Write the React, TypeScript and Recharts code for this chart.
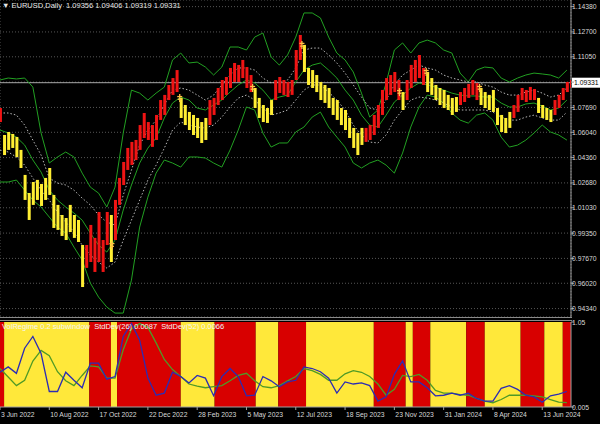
import React from 'react';
import { ComposedChart, Bar, Line, XAxis, YAxis, CartesianGrid, ReferenceLine, ReferenceArea } from 'recharts';

const FONT = '"Liberation Sans", Arial, sans-serif';
const AXIS = '#a0a0a0';

// EURUSD daily, one sample every 4 sessions (high / low and trend colour)
const barHigh = [
  1.0765, 1.0586, 1.0606, 1.0593, 1.0573, 1.0487, 1.0321, 1.0201, 1.0274, 1.0288,
  1.0261, 1.0301, 1.0367, 1.0188, 1.0122, 1.0055, 1.0035, 1.0122, 1.0055, 1.0022,
  0.9856, 0.9856, 0.9989, 0.9903, 1.0075, 0.9889, 1.0075, 1.0055, 1.0155, 1.0301,
  1.0407, 1.0500, 1.0540, 1.0553, 1.0652, 1.0732, 1.0672, 1.0652, 1.0719, 1.0818,
  1.0852, 1.0918, 1.0964, 1.1017, 1.0832, 1.0785, 1.0739, 1.0719, 1.0699, 1.0672,
  1.0699, 1.0818, 1.0832, 1.0898, 1.0951, 1.0971, 1.1031, 1.1064, 1.1051, 1.1084,
  1.1037, 1.0984, 1.0898, 1.0832, 1.0785, 1.0765, 1.0818, 1.0951, 1.0971, 1.0951,
  1.0938, 1.0951, 1.1150, 1.1250, 1.1184, 1.1031, 1.1017, 1.0984, 1.0938, 1.0918,
  1.0898, 1.0832, 1.0818, 1.0765, 1.0752, 1.0699, 1.0633, 1.0599, 1.0633, 1.0633,
  1.0652, 1.0719, 1.0785, 1.0885, 1.0964, 1.0984, 1.1004, 1.0951, 1.0871, 1.0951,
  1.1051, 1.1084, 1.1117, 1.1031, 1.1004, 1.0964, 1.0918, 1.0898, 1.0885, 1.0852,
  1.0832, 1.0838, 1.0871, 1.0898, 1.0925, 1.0951, 1.0931, 1.0898, 1.0871, 1.0852,
  1.0885, 1.0765, 1.0719, 1.0699, 1.0739, 1.0785, 1.0852, 1.0898, 1.0885, 1.0905,
  1.0891, 1.0832, 1.0785, 1.0765, 1.0752, 1.0818, 1.0852, 1.0898, 1.0938, 1.0951,
];
const barLow = [
  1.0672, 1.0453, 1.0487, 1.0500, 1.0440, 1.0367, 1.0155, 1.0022, 1.0122, 1.0155,
  1.0115, 1.0155, 1.0188, 0.9969, 0.9956, 0.9916, 0.9889, 0.9942, 0.9903, 0.9876,
  0.9577, 0.9704, 0.9743, 0.9677, 0.9743, 0.9677, 0.9856, 0.9743, 0.9889, 1.0122,
  1.0254, 1.0354, 1.0387, 1.0420, 1.0487, 1.0566, 1.0553, 1.0507, 1.0553, 1.0686,
  1.0719, 1.0818, 1.0852, 1.0871, 1.0699, 1.0652, 1.0619, 1.0586, 1.0566, 1.0533,
  1.0553, 1.0652, 1.0719, 1.0785, 1.0818, 1.0852, 1.0898, 1.0938, 1.0938, 1.0964,
  1.0898, 1.0871, 1.0765, 1.0699, 1.0672, 1.0666, 1.0719, 1.0818, 1.0865, 1.0852,
  1.0838, 1.0852, 1.0951, 1.1084, 1.1004, 1.0918, 1.0898, 1.0871, 1.0818, 1.0799,
  1.0765, 1.0719, 1.0686, 1.0652, 1.0619, 1.0566, 1.0500, 1.0453, 1.0520, 1.0540,
  1.0553, 1.0586, 1.0633, 1.0719, 1.0818, 1.0852, 1.0871, 1.0818, 1.0752, 1.0818,
  1.0898, 1.0938, 1.0964, 1.0918, 1.0871, 1.0852, 1.0818, 1.0785, 1.0765, 1.0752,
  1.0719, 1.0739, 1.0785, 1.0805, 1.0832, 1.0852, 1.0818, 1.0785, 1.0765, 1.0752,
  1.0739, 1.0652, 1.0606, 1.0599, 1.0633, 1.0699, 1.0739, 1.0818, 1.0805, 1.0818,
  1.0818, 1.0732, 1.0699, 1.0686, 1.0672, 1.0719, 1.0765, 1.0818, 1.0871, 1.0898,
];
// R = rising (red), Y = falling (yellow)
const barTrend =
  'R' + 'YYYYYYYYYYYYYYYYYYYY' + 'RRRRRR' + 'Y' + 'RRRRRRRRRRRRRRRR' + 'YYYYYYY' +
  'RRRRRRRRRRR' + 'YYYYY' + 'RRRRRRR' + 'YYYYYYYYYYYYYYY' + 'RRRRRRRRR' + 'Y' +
  'RRRRR' + 'YYYYYYYY' + 'RRRRR' + 'YYYYYYYY' + 'RRRRRR' + 'YYYY' + 'RRRRR';

// envelope lines, one sample every 8 sessions
const bandUpper = [
  1.0951, 1.0964, 1.0958, 1.0964, 1.0904, 1.0599, 1.0400, 1.0440, 1.0473, 1.0440,
  1.0333, 1.0240, 1.0200, 1.0108, 1.0240, 1.0599, 1.0884, 1.0864, 1.0818, 1.0864,
  1.0904, 1.1084, 1.1130, 1.1064, 1.1070, 1.1037, 1.0984, 1.1037, 1.1170, 1.1170,
  1.1150, 1.1236, 1.1263, 1.1104, 1.1050, 1.1117, 1.1236, 1.1396, 1.1396, 1.1363,
  1.1236, 1.1130, 1.1084, 1.1004, 1.0864, 1.0705, 1.0752, 1.0931, 1.1150, 1.1197,
  1.1130, 1.1197, 1.1216, 1.1197, 1.1150, 1.1130, 1.0997, 1.0938, 1.1017, 1.1037,
  1.1031, 1.0964, 1.0938, 1.0964, 1.0984, 1.0997, 1.0991, 1.0984, 1.0964, 1.1017,
];
const bandLower = [
  1.0274, 1.0274, 1.0287, 1.0220, 1.0154, 1.0108, 1.0041, 0.9975, 0.9935, 0.9842,
  0.9756, 0.9603, 0.9510, 0.9444, 0.9404, 0.9404, 0.9623, 0.9975, 1.0174, 1.0333,
  1.0420, 1.0400, 1.0373, 1.0440, 1.0440, 1.0433, 1.0400, 1.0373, 1.0486, 1.0619,
  1.0772, 1.0752, 1.0599, 1.0506, 1.0533, 1.0533, 1.0606, 1.0639, 1.0705, 1.0738,
  1.0639, 1.0572, 1.0506, 1.0400, 1.0367, 1.0400, 1.0420, 1.0386, 1.0333, 1.0466,
  1.0639, 1.0772, 1.0851, 1.0838, 1.0798, 1.0732, 1.0685, 1.0665, 1.0718, 1.0732,
  1.0685, 1.0572, 1.0506, 1.0519, 1.0552, 1.0599, 1.0652, 1.0606, 1.0586, 1.0552,
];
const bandMid = [
  1.0619, 1.0599, 1.0572, 1.0519, 1.0420, 1.0340, 1.0220, 1.0154, 1.0108, 1.0068,
  1.0021, 0.9935, 0.9855, 0.9809, 0.9888, 1.0088, 1.0254, 1.0400, 1.0499, 1.0566,
  1.0699, 1.0798, 1.0838, 1.0818, 1.0765, 1.0752, 1.0785, 1.0818, 1.0871, 1.0918,
  1.0951, 1.0931, 1.0884, 1.0818, 1.0838, 1.0851, 1.0938, 1.1017, 1.1050, 1.1064,
  1.1017, 1.0964, 1.0884, 1.0818, 1.0718, 1.0652, 1.0639, 1.0718, 1.0805, 1.0851,
  1.0898, 1.0931, 1.0918, 1.0904, 1.0884, 1.0864, 1.0851, 1.0845, 1.0845, 1.0838,
  1.0838, 1.0798, 1.0772, 1.0772, 1.0792, 1.0798, 1.0778, 1.0752, 1.0765, 1.0818,
];
const dotUpper = [
  1.0732, 1.0732, 1.0718, 1.0652, 1.0552, 1.0453, 1.0300, 1.0267, 1.0254, 1.0220,
  1.0167, 1.0121, 1.0054, 1.0008, 0.9988, 1.0187, 1.0353, 1.0519, 1.0619, 1.0685,
  1.0785, 1.0884, 1.0898, 1.0884, 1.0851, 1.0818, 1.0851, 1.0918, 1.0984, 1.1031,
  1.1031, 1.1017, 1.0964, 1.0931, 1.0938, 1.0951, 1.1031, 1.1150, 1.1163, 1.1163,
  1.1117, 1.1064, 1.0997, 1.0918, 1.0838, 1.0765, 1.0752, 1.0818, 1.0918, 1.0984,
  1.1017, 1.1050, 1.1031, 1.1017, 1.0984, 1.0964, 1.0951, 1.0938, 1.0938, 1.0918,
  1.0904, 1.0871, 1.0851, 1.0851, 1.0871, 1.0884, 1.0864, 1.0838, 1.0851, 1.0898,
];
const dotLower = [
  1.0486, 1.0473, 1.0440, 1.0386, 1.0300, 1.0220, 1.0154, 1.0074, 1.0008, 0.9942,
  0.9855, 0.9789, 0.9742, 0.9703, 0.9742, 0.9888, 1.0021, 1.0154, 1.0287, 1.0386,
  1.0499, 1.0619, 1.0672, 1.0652, 1.0639, 1.0632, 1.0652, 1.0705, 1.0772, 1.0831,
  1.0851, 1.0818, 1.0765, 1.0718, 1.0732, 1.0752, 1.0818, 1.0884, 1.0918, 1.0918,
  1.0871, 1.0818, 1.0752, 1.0652, 1.0586, 1.0539, 1.0533, 1.0586, 1.0685, 1.0752,
  1.0818, 1.0838, 1.0831, 1.0818, 1.0798, 1.0772, 1.0752, 1.0752, 1.0752, 1.0752,
  1.0738, 1.0705, 1.0685, 1.0685, 1.0705, 1.0718, 1.0699, 1.0685, 1.0685, 1.0738,
];

// trend-flip arrows
const markDay = [109, 175, 246, 294, 389, 415, 467];
const markPrice = [0.9855, 1.0831, 1.0898, 1.1184, 1.0871, 1.1004, 1.0898];

// sub-window: StdDev(26) and StdDev(52), every 8 sessions
const std26 = [
  0.0123, 0.0133, 0.0121, 0.0168, 0.0190, 0.0158, 0.0087, 0.0087, 0.0123, 0.0108,
  0.0094, 0.0140, 0.0140, 0.0110, 0.0115, 0.0190, 0.0214, 0.0183, 0.0112, 0.0080,
  0.0084, 0.0123, 0.0115, 0.0103, 0.0117, 0.0112, 0.0079, 0.0115, 0.0130, 0.0115,
  0.0079, 0.0080, 0.0115, 0.0107, 0.0096, 0.0105, 0.0108, 0.0133, 0.0130, 0.0124,
  0.0112, 0.0084, 0.0105, 0.0101, 0.0103, 0.0098, 0.0069, 0.0077, 0.0119, 0.0144,
  0.0105, 0.0105, 0.0094, 0.0079, 0.0080, 0.0084, 0.0080, 0.0084, 0.0074, 0.0069,
  0.0069, 0.0093, 0.0098, 0.0091, 0.0080, 0.0077, 0.0067, 0.0079, 0.0082, 0.0087,
];
const std52 = [
  0.0130, 0.0114, 0.0098, 0.0108, 0.0144, 0.0164, 0.0154, 0.0124, 0.0107, 0.0098,
  0.0117, 0.0135, 0.0133, 0.0112, 0.0112, 0.0165, 0.0204, 0.0214, 0.0207, 0.0178,
  0.0147, 0.0128, 0.0115, 0.0101, 0.0097, 0.0094, 0.0096, 0.0098, 0.0107, 0.0117,
  0.0121, 0.0107, 0.0096, 0.0094, 0.0098, 0.0107, 0.0115, 0.0130, 0.0126, 0.0119,
  0.0108, 0.0108, 0.0120, 0.0126, 0.0123, 0.0115, 0.0101, 0.0080, 0.0091, 0.0117,
  0.0115, 0.0119, 0.0108, 0.0089, 0.0084, 0.0084, 0.0081, 0.0080, 0.0074, 0.0069,
  0.0066, 0.0072, 0.0080, 0.0080, 0.0080, 0.0079, 0.0077, 0.0072, 0.0067, 0.0066,
];

// volatility regime blocks: start session, R = high, Y = low
const regimeStart = [0, 4, 87, 108, 114, 176, 209, 249, 271, 298, 364, 395, 402, 419, 454, 472, 507, 530, 548];
const regimeState = ['R', 'Y', 'R', 'Y', 'R', 'Y', 'R', 'Y', 'R', 'Y', 'R', 'Y', 'R', 'Y', 'R', 'Y', 'R', 'Y', 'R'];

const dateTickDays = [0, 48, 96, 144, 192, 240, 288, 336, 384, 432, 480, 528];
const dateLabels = [
  '3 Jun 2022', '10 Aug 2022', '17 Oct 2022', '22 Dec 2022', '28 Feb 2023', '5 May 2023',
  '12 Jul 2023', '18 Sep 2023', '23 Nov 2023', '31 Jan 2024', '8 Apr 2024', '13 Jun 2024',
];
const gridDays = [0, 24, 48, 72, 96, 120, 144, 168, 192, 216, 240, 264, 288, 312, 336, 360, 384, 408, 432, 456, 480, 504, 528, 552];
const priceTicks = [1.1438, 1.127, 1.1105, 1.0937, 1.0769, 1.0604, 1.0436, 1.0268, 1.0103, 0.9935, 0.9767, 0.9602, 0.9434];
const lastPrice = 1.09331;
const LAST_DAY = 556;
const PRICE_DOMAIN = [0.9378, 1.1482];

const priceRows = barHigh.map((h, i) => ({ day: i * 4, range: [barLow[i], h], trend: barTrend[i] }));
const bandRows = bandUpper.map((u, i) => ({
  day: i * 8, upper: u, lower: bandLower[i], mid: bandMid[i], dotUp: dotUpper[i], dotDn: dotLower[i],
}));
const markRows = markDay.map((d, i) => ({ day: d, price: markPrice[i] }));
const stdRows = std26.map((v, i) => ({ day: i * 8, s26: v, s52: std52[i] }));
const regimes = regimeStart.map((s, i) => ({
  from: s, to: i + 1 < regimeStart.length ? regimeStart[i + 1] : LAST_DAY, state: regimeState[i],
}));

const PriceTick = (props: any) => {
  const v = props.payload.value;
  // the last-price tag sits on top of this level
  if (Math.abs(v - lastPrice) < 0.001) return <g />;
  return (
    <text x={props.x - 4} y={props.y + 2.5} fill="#d8d8d8" fontSize={6.8} fontFamily={FONT} textAnchor="start">
      {v.toFixed(5)}
    </text>
  );
};

const SubTick = (props: any) => (
  <text x={props.x - 4} y={props.y + 2.5} fill="#d8d8d8" fontSize={6.8} fontFamily={FONT} textAnchor="start">
    {String(props.payload.value)}
  </text>
);

const DateTick = (props: any) => {
  const idx = dateTickDays.indexOf(props.payload.value);
  return (
    <text x={props.x + 1} y={props.y + 5} fill="#d8d8d8" fontSize={6.8} fontFamily={FONT} textAnchor="start">
      {dateLabels[idx]}
    </text>
  );
};

const LastTag = (props: any) => {
  const vb = props.viewBox || {};
  const x = (vb.x || 0) + (vb.width || 0) + 1;
  const y = vb.y || 0;
  return (
    <g>
      <rect x={x} y={y - 5} width={28} height={10} fill="#ffffff" />
      <text x={x + 2} y={y + 2.5} fill="#000" fontSize={6.8} fontFamily={FONT}>{lastPrice.toFixed(5)}</text>
    </g>
  );
};

// thin high-low column with a small gap to the next sample
const PriceBar = (props: any) => {
  const { x, y, width, height, payload } = props;
  if (x == null || y == null) return <g />;
  const cx = x + (width || 0) / 2;
  return (
    <rect
      x={cx - 1.5}
      y={y}
      width={3}
      height={Math.max(Math.abs(height || 0), 1)}
      fill={payload && payload.trend === 'R' ? '#f01414' : '#ffee33'}
    />
  );
};

const Arrow = (props: any) => {
  const { cx, cy, index } = props;
  if (cx == null || cy == null) return <g key={index} />;
  return (
    <g key={index} stroke="#ffc247" strokeWidth={1.3}>
      <line x1={cx} y1={cy - 4} x2={cx} y2={cy + 4} />
      <line x1={cx - 2.5} y1={cy - 1.5} x2={cx + 2.5} y2={cy - 1.5} />
      <line x1={cx - 2} y1={cy + 1.2} x2={cx + 2} y2={cy + 1.2} />
    </g>
  );
};

const MARGIN = { top: 0, right: 0, bottom: 0, left: 0 };
const layer: React.CSSProperties = { position: 'absolute', left: 0, top: 0 };

export default function App() {
  return (
    <div style={{ position: 'absolute', left: 0, top: 0, width: 600, height: 424, background: '#000', overflow: 'hidden' }}>
      {/* indicator lines, grid and price scale */}
      <div style={layer}>
        <ComposedChart width={600} height={317} data={bandRows} margin={MARGIN}>
          <CartesianGrid stroke="#565656" strokeDasharray="1 2" />
          <XAxis type="number" dataKey="day" domain={[0, LAST_DAY]} ticks={gridDays} tick={false} tickLine={false} axisLine={false} height={0} padding={{ left: 0, right: 0 }} allowDataOverflow />
          <YAxis
            orientation="right"
            domain={PRICE_DOMAIN}
            ticks={priceTicks}
            width={29}
            tick={<PriceTick />}
            tickSize={3}
            axisLine={{ stroke: AXIS }}
            tickLine={{ stroke: AXIS }}
            interval={0}
            allowDataOverflow
          />
          <ReferenceLine y={lastPrice} stroke="#a8a8a8" label={<LastTag />} />
          <Line dataKey="upper" stroke="#22a022" strokeWidth={1} dot={false} activeDot={false} isAnimationActive={false} />
          <Line dataKey="lower" stroke="#22a022" strokeWidth={1} dot={false} activeDot={false} isAnimationActive={false} />
          <Line dataKey="mid" stroke="#22a022" strokeWidth={1} dot={false} activeDot={false} isAnimationActive={false} />
          <Line dataKey="dotUp" stroke="#b8b8b8" strokeWidth={1} strokeDasharray="1.5 2" dot={false} activeDot={false} isAnimationActive={false} />
          <Line dataKey="dotDn" stroke="#b8b8b8" strokeWidth={1} strokeDasharray="1.5 2" dot={false} activeDot={false} isAnimationActive={false} />
        </ComposedChart>
      </div>

      {/* price bars, drawn over the indicator lines */}
      <div style={layer}>
        <ComposedChart width={600} height={317} data={priceRows} margin={MARGIN}>
          <XAxis type="number" dataKey="day" domain={[0, LAST_DAY]} hide padding={{ left: 0, right: 0 }} allowDataOverflow />
          <YAxis orientation="right" domain={PRICE_DOMAIN} width={29} tick={false} tickLine={false} axisLine={false} allowDataOverflow />
          <Bar dataKey="range" barSize={3} shape={PriceBar} isAnimationActive={false} activeBar={false} />
        </ComposedChart>
      </div>

      {/* trend-flip arrows on top */}
      <div style={layer}>
        <ComposedChart width={600} height={317} data={markRows} margin={MARGIN}>
          <XAxis type="number" dataKey="day" domain={[0, LAST_DAY]} hide padding={{ left: 0, right: 0 }} allowDataOverflow />
          <YAxis orientation="right" domain={PRICE_DOMAIN} width={29} tick={false} tickLine={false} axisLine={false} allowDataOverflow />
          <Line dataKey="price" stroke="none" dot={Arrow} activeDot={false} isAnimationActive={false} />
        </ComposedChart>
      </div>

      <div style={{ position: 'absolute', left: 0, top: 317, width: 572, height: 1, background: '#8a8a8a' }} />
      <div style={{ position: 'absolute', left: 0, top: 320, width: 572, height: 1, background: '#8a8a8a' }} />

      <div style={{ position: 'absolute', left: 0, top: 314 }}>
        <ComposedChart width={600} height={110} data={stdRows} margin={{ top: 8, right: 0, bottom: 0, left: 0 }}>
          <XAxis
            type="number"
            dataKey="day"
            domain={[0, LAST_DAY]}
            ticks={dateTickDays}
            tick={<DateTick />}
            interval={0}
            height={17}
            tickSize={3}
            axisLine={{ stroke: AXIS }}
            tickLine={{ stroke: AXIS }}
            padding={{ left: 0, right: 0 }}
            allowDataOverflow
          />
          <YAxis
            yAxisId="regime"
            orientation="right"
            domain={[0.005, 1.05]}
            ticks={[0.005, 1.05]}
            width={29}
            tick={<SubTick />}
            tickSize={3}
            axisLine={{ stroke: AXIS }}
            tickLine={{ stroke: AXIS }}
            interval={0}
            allowDataOverflow
          />
          <YAxis yAxisId="std" hide domain={[0.0058, 0.0217]} allowDataOverflow />
          {regimes.map((r, i) => (
            <ReferenceArea
              key={i}
              yAxisId="regime"
              x1={r.from}
              x2={r.to}
              y1={0.005}
              y2={1.05}
              fill={r.state === 'R' ? '#d80000' : '#ffe83a'}
              fillOpacity={1}
              stroke="none"
            />
          ))}
          <Line yAxisId="std" dataKey="s52" stroke="#4f9a26" strokeWidth={1.3} dot={false} activeDot={false} isAnimationActive={false} />
          <Line yAxisId="std" dataKey="s26" stroke="#2c2cb4" strokeWidth={1.3} dot={false} activeDot={false} isAnimationActive={false} />
        </ComposedChart>
      </div>

      <div style={{ position: 'absolute', left: 2, top: 1, color: '#e6e6e6', fontFamily: FONT, fontSize: 7.5, whiteSpace: 'pre' }}>
        {'\u25BC EURUSD,Daily  1.09356 1.09406 1.09319 1.09331'}
      </div>
      <div style={{ position: 'absolute', left: 2, top: 322, color: '#f4f4f4', fontFamily: FONT, fontSize: 7.5, whiteSpace: 'pre' }}>
        {'VolRegime 0.2 subwindow  StdDev(26) 0.0087  StdDev(52) 0.0066'}
      </div>
    </div>
  );
}
